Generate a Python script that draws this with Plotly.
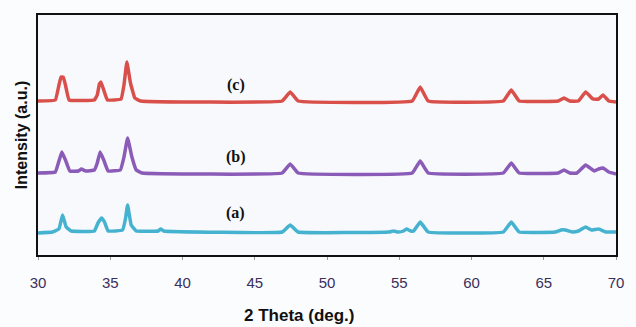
import plotly.graph_objects as go

# 2-theta sample positions and intensities (arbitrary units, offsets included)
x_c = [30, 31.2, 31.45, 31.6, 31.75, 31.9, 32.15, 33.9, 34.1, 34.25, 34.35, 34.55, 34.8,
       35.75, 35.95, 36.15, 36.4, 36.7, 37.1, 46.9, 47.45, 48.0, 55.9, 56.45, 57.0,
       62.2, 62.75, 63.3, 66.0, 66.4, 66.8, 67.4, 67.9, 68.4, 68.8, 69.1, 69.5, 70]
y_c = [154, 155, 170, 178, 178, 170, 155, 155, 160, 171, 173, 165, 155,
       156, 170, 193, 172, 157, 154, 154, 163, 154, 154, 168, 154,
       154, 165, 154, 154, 157, 154, 154, 163, 156, 156, 160, 154, 153]

x_b = [30, 31.2, 31.45, 31.65, 31.9, 32.2, 32.8, 33.0, 33.3, 33.9, 34.1, 34.3,
       34.55, 34.85, 35.7, 35.95, 36.2, 36.5, 36.8, 37.2, 46.9, 47.45, 48.0,
       55.9, 56.45, 57.0, 62.2, 62.75, 63.3, 66.0, 66.4, 66.8, 67.3, 67.9, 68.5, 68.8, 69.1, 69.5, 70]
y_b = [82, 83, 94, 103, 95, 84, 84, 86, 84, 85, 92, 103,
       95, 84, 85, 98, 117, 98, 85, 82, 82, 91, 82,
       82, 94, 82, 82, 92, 82, 82, 85, 82, 82, 90, 84, 86, 87, 83, 81]

x_a = [30, 31.0, 31.45, 31.7, 31.95, 32.3, 33.9, 34.15, 34.4, 34.6, 34.85,
       35.85, 36.05, 36.2, 36.45, 36.8, 38.3, 38.5, 38.7, 46.9, 47.45, 48.0,
       54.3, 54.6, 54.9, 55.3, 55.5, 55.8, 56.0, 56.45, 57.0, 62.2, 62.75, 63.3,
       65.8, 66.2, 66.5, 67.0, 67.4, 67.9, 68.3, 68.8, 69.3, 70]
y_a = [22, 23, 26, 40, 28, 24, 24, 32, 37, 33, 24,
       25, 36, 50, 30, 24, 24, 26, 24, 23, 30, 23,
       23, 24, 23, 24, 26, 24, 24, 33, 23, 23, 33, 23,
       23, 25, 25, 23, 24, 28, 25, 26, 23, 23]

series_names = ["(c)", "(b)", "(a)"]
series_colors = ["#d9504b", "#8a5cb8", "#45b3d0"]
label_x = [43.7, 43.7, 43.7]
label_y = [170, 98, 42]

x_ticks = [30, 35, 40, 45, 50, 55, 60, 65, 70]

fig = go.Figure()
for xs, ys, name, col in zip([x_c, x_b, x_a], [y_c, y_b, y_a], series_names, series_colors):
    fig.add_trace(go.Scatter(x=xs, y=ys, mode="lines", name=name,
                             line=dict(color=col, width=3.5, shape="spline", smoothing=0.25),
                             showlegend=False))

for name, lx, ly in zip(series_names, label_x, label_y):
    fig.add_annotation(x=lx, y=ly, text="<b>" + name + "</b>", showarrow=False,
                       font=dict(family="Liberation Serif", size=16, color="#111111"))

fig.add_annotation(xref="paper", yref="paper", x=0.453, y=-0.25, yanchor="middle",
                   text="<b>2 Theta (deg.)</b>", showarrow=False,
                   font=dict(family="Liberation Sans", size=17, color="#111111"))

fig.update_layout(
    width=636, height=327,
    margin=dict(l=38, r=12, t=15, b=72),
    paper_bgcolor="#fbfcfe",
    plot_bgcolor="#f8f9fc",
    xaxis=dict(range=[30, 70], tickvals=x_ticks, ticks="outside", ticklen=3, tickcolor="#999999",
               ticklabelstandoff=10,
               showgrid=False, zeroline=False, showline=True, linecolor="#111111", linewidth=2,
               mirror=True, tickfont=dict(family="Liberation Sans", size=15, color="#3a2f5a")),
    yaxis=dict(range=[0, 240], showticklabels=False, ticks="", showgrid=False, zeroline=False,
               showline=True, linecolor="#111111", linewidth=2, mirror=True,
               title=dict(text="<b>Intensity (a.u.)</b>", standoff=4,
                          font=dict(family="Liberation Sans", size=16, color="#111111"))),
)

fig.write_html("out.html")
